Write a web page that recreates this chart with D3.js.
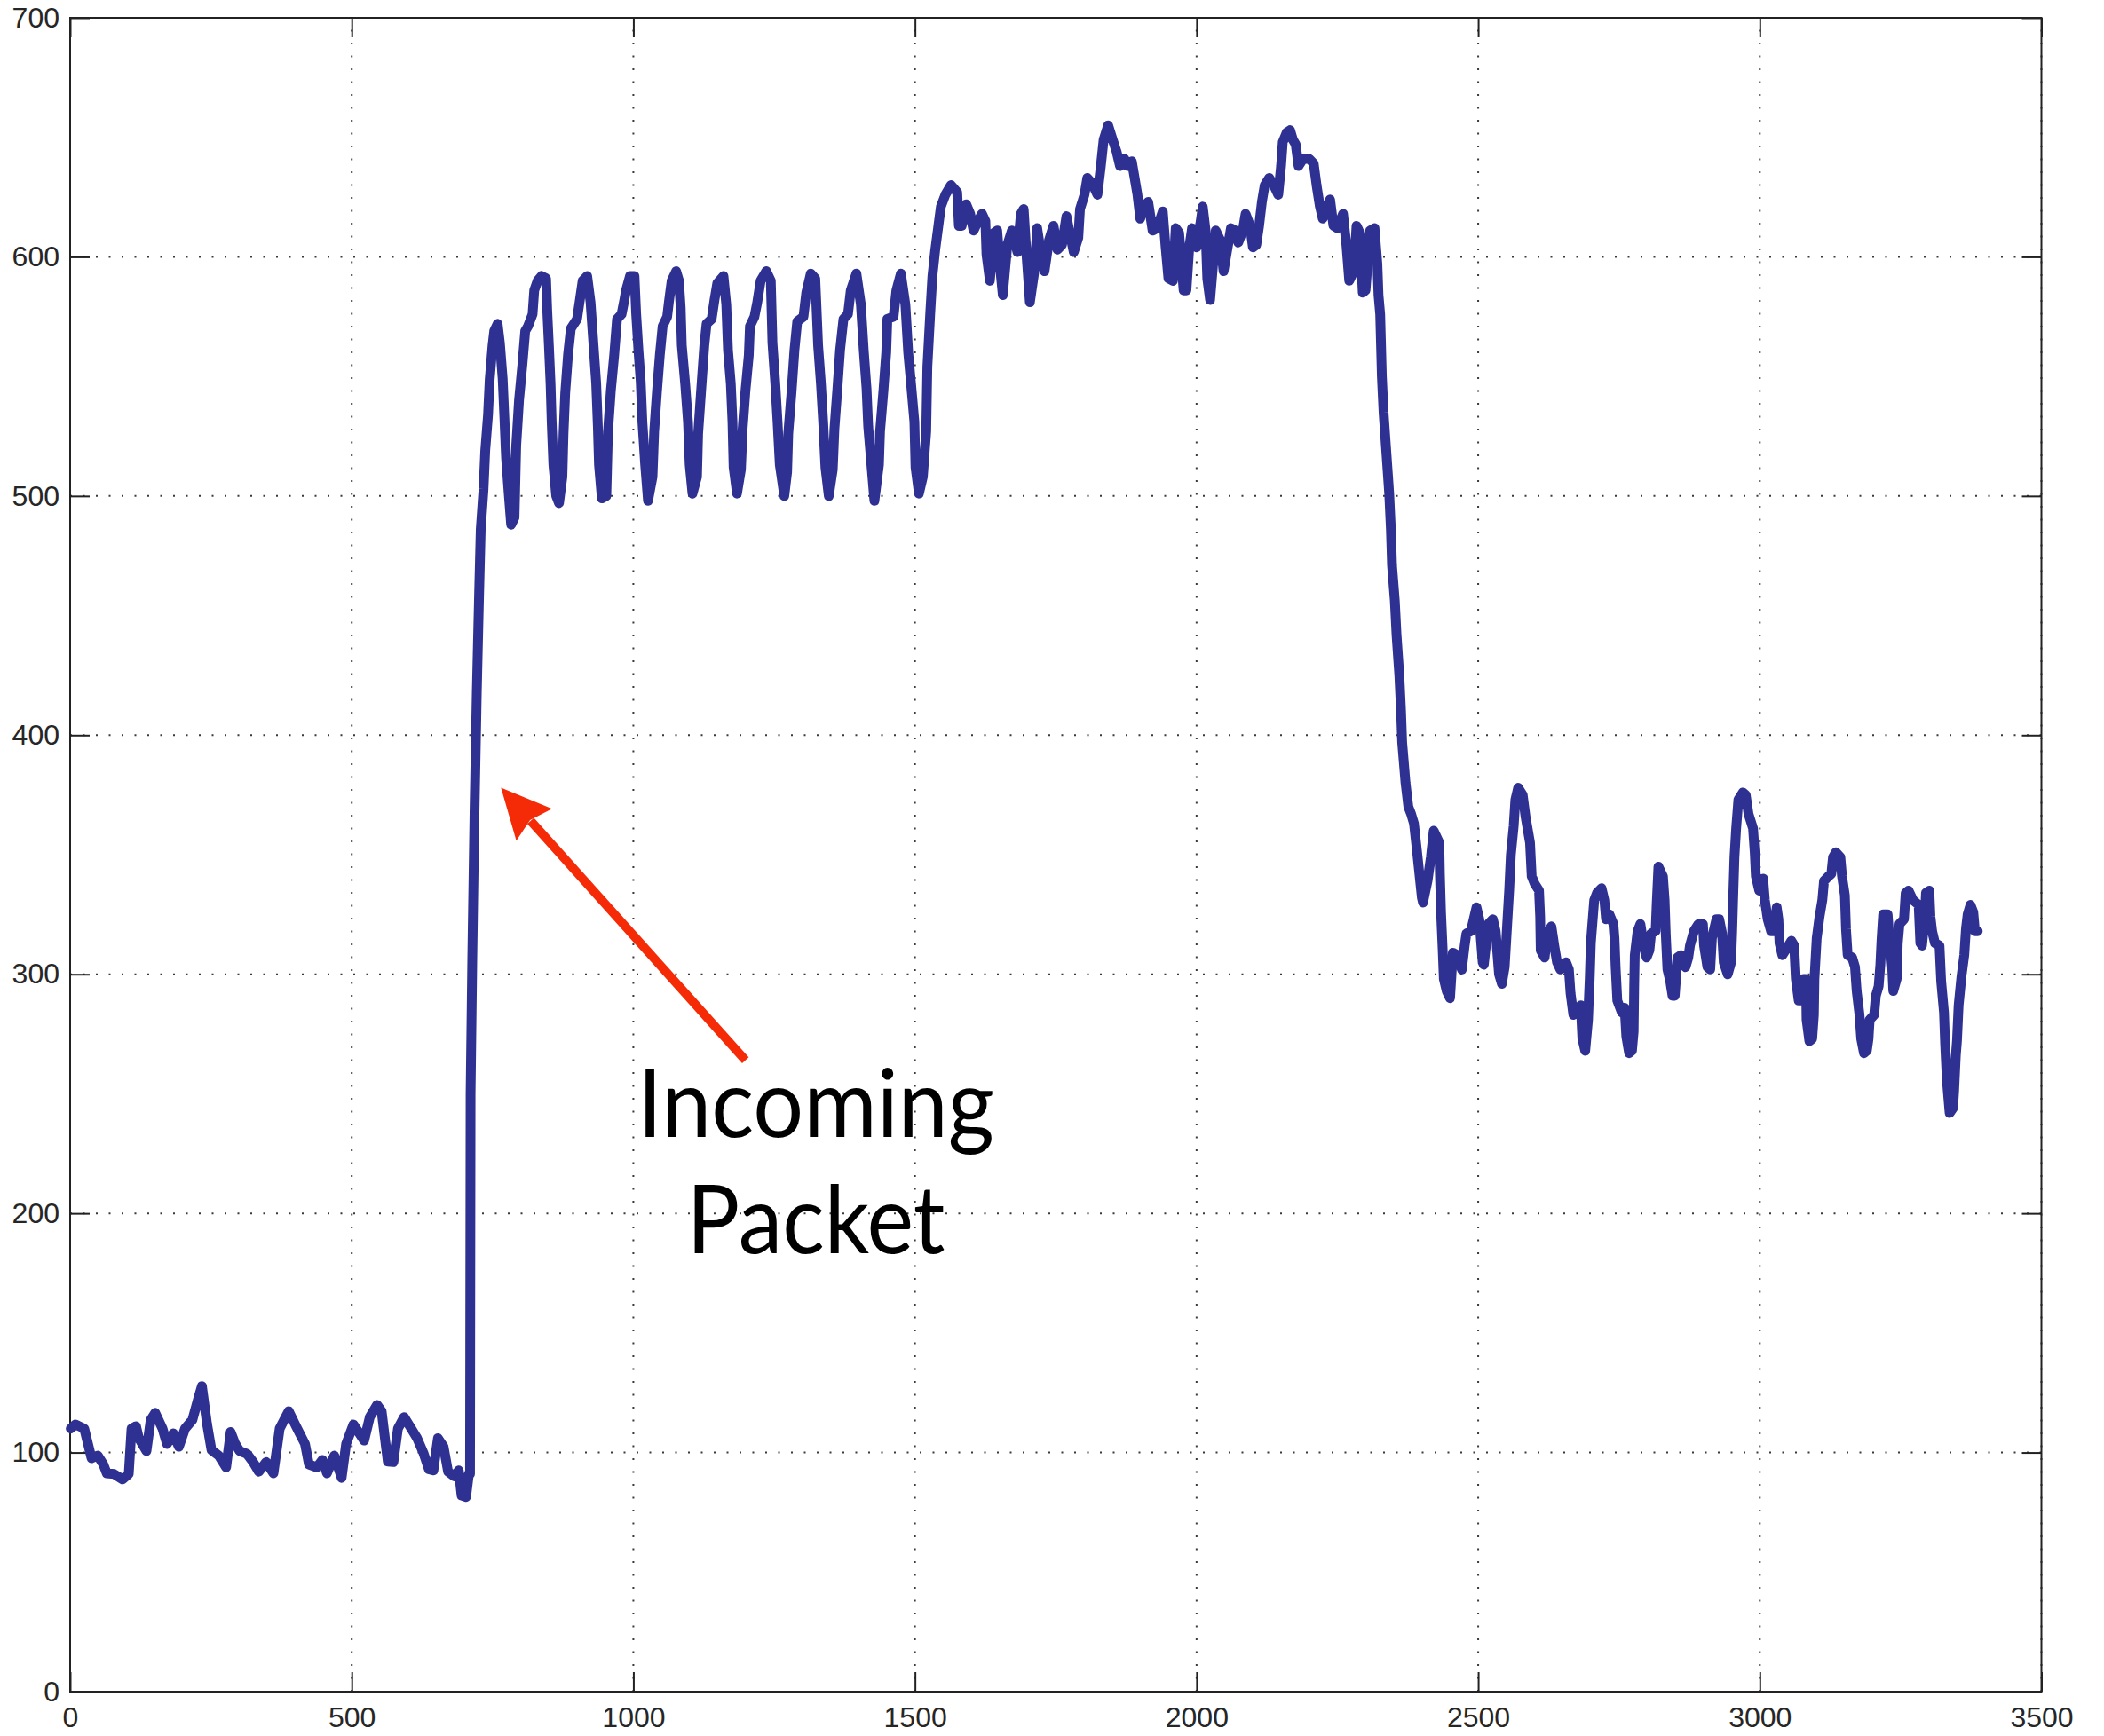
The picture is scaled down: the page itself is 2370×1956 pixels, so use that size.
<!DOCTYPE html>
<html>
<head>
<meta charset="utf-8">
<script src="https://cdn.jsdelivr.net/npm/d3@7"></script>
<style>
	body { margin: 0; background: #fff; }
	#chart-area svg { display: block; }
</style>
</head>
<body>
<div id="chart-area"></div>
<script>
// samples, [time, value]
var quietSegment = [
	[1,110],[9.5,111.7],[25,110],[38,97.6],[49,98.7],[59,95],[65,91.3],[78,91],[93,88.8],[104,91],
	[109,110],[117,111],[122,106],[135.5,100.6],[143,113.6],[151,116.6],[164,110],[172,103.6],[183,108],
	[193,102.4],[204,110],[217,113.6],[227,122.2],[234,127.8],[243,112],[251,101],[264,98.7],[277,93.8],
	[285,108.6],[293,103.7],[301,100.6],[314,99.4],[325,96],[335,92],[348,96],[361,91.3],[372,110],
	[388,117.3],[401,111],[417,103.6],[424,95],[438,93.8],[448,96.9],[456,91.3],[469,98.7],[482,89.4],
	[490,103.6],[503,111.7],[522,105],[532,114.8],[545,119.9],[553,117.3],[564,96.2],[574,96],[582,110],
	[593,114.8],[603,111],[616,106],[627,100],[637,93],[645,92.5],[653,106],[663,102.4],[671,92],[682,90],
	[690,92.5],[695,82],[703,81.4],[708,91]
];

var burstSegment = [
	[710,91],[711,250],[714,306],[718,368],[722,418],[726,458],[729,486],[734,503],[737,519],[742,534],
	[745,549],[750,563],[753,569],[759,572],[763,564],[768,549],[771,533],[774,516],[779,500],[783,488],
	[789,491],[792,521],[797,540],[803,555],[808,569],[813,571],[821,576],[824,586],[830,590],[837,592],
	[845,591],[847,578],[850,563],[853,547],[855,531],[858,513],[863,500],[868,497],[874,508],[876,526],
	[879,543],[884,559],[889,570],[900,574],[905,582],[910,590],[918,592],[924,581],[929,564],[934,547],
	[937,529],[939,513],[944,499],[952,500],[955,527],[960,544],[966,559],[971,574],[979,576],[984,582],
	[987,586],[994,592],[1002,592],[1005,576],[1009,561],[1013,548],[1016,531],[1021,513],[1026,498],
	[1034,508],[1037,527],[1042,544],[1047,559],[1052,571],[1060,575],[1063,581],[1068,590],[1076,594],
	[1081,590],[1084,579],[1086,563],[1092,547],[1097,531],[1100,513],[1105,501],[1113,508],[1115,526],
	[1120,543],[1126,563],[1130,572],[1139,574],[1144,582],[1149,589],[1160,592],[1165,580],[1168,561],
	[1173,547],[1176,531],[1178,512],[1184,501],[1191,511],[1194,528],[1199,544],[1205,559],[1207,571],
	[1215,575],[1220,581],[1226,590],[1236,594],[1244,590],[1247,564],[1252,547],[1256,531],[1260,513],
	[1268,500],[1273,510],[1275,526],[1281,544],[1286,561],[1291,573],[1302,575],[1307,585],[1315,593],
	[1323,591],[1328,563],[1333,547],[1337,531],[1341,512],[1347,500],[1354,511],[1357,528],[1362,544],
	[1367,561],[1373,574],[1381,576],[1386,586],[1396,593],[1404,580],[1409,561],[1414,545],[1417,529],
	[1423,512],[1428,498],[1436,513],[1438,527],[1444,544],[1449,560],[1451,574],[1462,575],[1467,586],
	[1475,593],[1483,580],[1488,560],[1493,547],[1499,531],[1501,512],[1507,501],[1514,508],[1520,527]
];

var plateauSegment = [
	[1522,554],[1527,576],[1531,592],[1536,603],[1541,612],[1546,621],[1554,626],[1564,630],[1575,627],
	[1578,613],[1583,613],[1591,622],[1598,618],[1604,611],[1612,615],[1619,618],[1625,615],[1627,601],
	[1633,590],[1640,610],[1646,611],[1651,596],[1656,584],[1664,605],[1672,611],[1682,602],[1688,618],
	[1693,620],[1698,601],[1704,581],[1712,594],[1717,612],[1724,601],[1730,594],[1738,607],[1746,613],
	[1753,603],[1761,605],[1769,617],[1774,611],[1782,602],[1790,608],[1793,620],[1801,626],[1806,633],
	[1814,631],[1824,626],[1830,638],[1835,649],[1843,655],[1851,649],[1858,644],[1864,638],[1872,641],
	[1877,638],[1885,640],[1890,633],[1895,626],[1900,616],[1906,621],[1914,623],[1922,611],[1930,612],
	[1940,619],[1945,604],[1950,591],[1958,590],[1963,612],[1969,610],[1977,586],[1982,586],[1987,604],
	[1992,612],[2000,604],[2005,611],[2011,621],[2016,611],[2019,591],[2024,582],[2029,596],[2034,611],
	[2042,607],[2048,594],[2053,601],[2061,612],[2069,611],[2074,606],[2082,611],[2087,618],[2095,613],
	[2100,604],[2106,605],[2111,613],[2116,623],[2121,630],[2129,633],[2137,630],[2145,626],[2150,638],
	[2153,648],[2160,652],[2166,653],[2171,649],[2176,647],[2181,638],[2189,641],[2200,641],[2208,639],
	[2213,630],[2219,621],[2224,616],[2232,621],[2237,624],[2243,613],[2250,612],[2260,618],[2266,605],
	[2271,590],[2279,594],[2284,613],[2290,610],[2295,585],[2300,586],[2308,611],[2316,612],[2321,597],
	[2323,584],[2326,576]
];

var tailSegment = [
	[2329,550],[2332,535],[2337,518],[2342,501],[2345,486],[2347,471],[2352,456],[2355,442],[2360,425],
	[2363,410],[2365,397],[2371,380],[2376,370],[2381,367],[2386,363],[2392,350],[2400,332],[2402,330],
	[2410,339],[2416,349],[2421,360],[2431,355],[2432,342],[2434,326],[2437,310],[2439,298],[2444,293],
	[2450,290],[2455,309],[2463,308],[2471,302],[2476,312],[2479,317],[2487,318],[2492,323],[2497,328],
	[2502,323],[2508,305],[2510,304],[2518,321],[2526,323],[2531,318],[2537,300],[2542,296],[2547,303],
	[2550,315],[2555,335],[2558,350],[2563,362],[2566,373],[2571,378],[2579,375],[2584,366],[2592,355],
	[2595,341],[2600,338],[2608,335],[2610,324],[2611,310],[2618,307],[2623,317],[2630,320],[2635,312],
	[2640,305],[2646,302],[2656,305],[2661,302],[2664,292],[2669,283],[2677,284],[2682,287],[2685,273],
	[2690,268],[2695,281],[2698,298],[2700,313],[2706,331],[2711,334],[2719,336],[2724,331],[2727,323],
	[2733,325],[2740,321],[2742,315],[2744,303],[2747,289],[2755,284],[2760,286],[2763,274],[2768,267],
	[2773,268],[2776,276],[2777,295],[2778,308],[2783,318],[2788,321],[2793,313],[2799,307],[2804,310],
	[2807,317],[2815,318],[2817,330],[2820,345],[2828,341],[2831,331],[2833,317],[2836,302],[2841,297],
	[2845,291],[2849,291],[2854,307],[2860,308],[2868,303],[2873,307],[2876,312],[2883,318],[2891,321],
	[2899,321],[2901,312],[2907,303],[2912,302],[2915,315],[2923,323],[2928,323],[2933,317],[2936,305],
	[2943,300],[2949,305],[2951,318],[2953,334],[2955,349],[2958,361],[2962,373],[2970,376],[2975,375],
	[2980,367],[2988,361],[2991,351],[2993,341],[2999,335],[3006,340],[3009,331],[3014,323],[3020,318],
	[3025,318],[3030,328],[3033,323],[3035,313],[3040,308],[3051,312],[3056,314],[3061,312],[3064,298],
	[3069,289],[3075,289],[3077,298],[3082,298],[3083,281],[3088,272],[3093,273],[3096,283],[3097,298],
	[3101,315],[3106,324],[3111,331],[3114,339],[3122,341],[3127,342],[3130,349],[3135,351],[3143,349],
	[3146,341],[3151,333],[3153,319],[3156,308],[3164,307],[3169,303],[3172,293],[3177,283],[3180,273],
	[3185,267],[3190,268],[3193,273],[3195,281],[3203,283],[3206,291],[3211,295],[3214,304],[3216,314],
	[3219,325],[3227,325],[3230,315],[3235,303],[3237,293],[3243,298],[3245,313],[3248,321],[3256,323],
	[3259,334],[3264,335],[3272,331],[3277,330],[3282,329],[3285,313],[3288,312],[3293,324],[3295,334],
	[3301,335],[3303,324],[3306,318],[3311,313],[3319,312],[3322,297],[3327,284],[3329,271],[3332,256],
	[3337,242],[3343,244],[3345,251],[3348,266],[3350,272],[3353,287],[3358,299],[3363,308],[3366,319],
	[3369,325],[3374,329],[3379,326],[3382,318],[3387,318]
];

var xTicks = [0, 500, 1000, 1500, 2000, 2500, 3000, 3500];
var yTicks = [0, 100, 200, 300, 400, 500, 600, 700];

var noteLines = ["Incoming", "Packet"];
var noteArrow = {tip: [765, 378], tail: [1199, 264]};
var noteAnchor = [1324, 232];

const svgWidth = 2370;
const svgHeight = 1956;
const margin = {top: 20, right: 70, bottom: 50, left: 79};
const tickLen = 22;

var series = quietSegment.concat(burstSegment, plateauSegment, tailSegment);

var canvas = d3.select("#chart-area").append("svg")
	.attr("width", svgWidth)
	.attr("height", svgHeight)
	.style("background", "#fff");

var xScale = d3.scaleLinear()
	.domain([0, 3500])
	.range([margin.left, svgWidth - margin.right - 0.5]);

var yScale = d3.scaleLinear()
	.domain([0, 700])
	.range([svgHeight - margin.bottom, margin.top]);

var x0 = xScale(0), x1 = xScale(3500), y0 = yScale(0), y1 = yScale(700);

var grid = canvas.append("g")
	.attr("stroke", "#3a3a3a")
	.attr("stroke-width", 2)
	.attr("stroke-dasharray", "2,12.5");

grid.selectAll("line.vgrid")
	.data(xTicks)
	.enter().append("line")
	.attr("class", "vgrid")
	.attr("x1", d => xScale(d))
	.attr("x2", d => xScale(d))
	.attr("y1", y0)
	.attr("y2", y1);

grid.selectAll("line.hgrid")
	.data(yTicks)
	.enter().append("line")
	.attr("class", "hgrid")
	.attr("x1", x0)
	.attr("x2", x1)
	.attr("y1", d => yScale(d))
	.attr("y2", d => yScale(d));

var plain = d3.format("d");

var xAxisBottom = d3.axisBottom(xScale).tickValues(xTicks).tickFormat(plain).tickSizeInner(-tickLen).tickSizeOuter(0).tickPadding(17);
var xAxisTop = d3.axisTop(xScale).tickValues(xTicks).tickSizeInner(-tickLen).tickSizeOuter(0).tickFormat("");
var yAxisLeft = d3.axisLeft(yScale).tickValues(yTicks).tickFormat(plain).tickSizeInner(-tickLen).tickSizeOuter(0).tickPadding(12);
var yAxisRight = d3.axisRight(yScale).tickValues(yTicks).tickSizeInner(-tickLen).tickSizeOuter(0).tickFormat("");

var axes = [
	canvas.append("g").attr("transform", "translate(0," + y0 + ")").call(xAxisBottom),
	canvas.append("g").attr("transform", "translate(0," + y1 + ")").call(xAxisTop),
	canvas.append("g").attr("transform", "translate(" + x0 + ",0)").call(yAxisLeft),
	canvas.append("g").attr("transform", "translate(" + x1 + ",0)").call(yAxisRight)
];

axes.forEach(g => {
	g.select(".domain").remove();
	g.selectAll(".tick line").attr("stroke", "#222").attr("stroke-width", 2);
	g.selectAll(".tick text")
		.attr("fill", "#262626")
		.style("font-family", "'Liberation Sans', Arial, Helvetica, sans-serif")
		.style("font-size", "32px");
});

canvas.append("rect")
	.attr("x", x0)
	.attr("y", y1)
	.attr("width", x1 - x0)
	.attr("height", y0 - y1)
	.attr("fill", "none")
	.attr("stroke", "#222")
	.attr("stroke-width", 2);

var line = d3.line()
	.x(d => xScale(d[0]))
	.y(d => yScale(d[1]));

canvas.append("path")
	.datum(series)
	.attr("d", line)
	.attr("fill", "none")
	.attr("stroke", "#2e3192")
	.attr("stroke-width", 11)
	.attr("stroke-linejoin", "round")
	.attr("stroke-linecap", "round");

// red arrow pointing at the jump
var tip = [xScale(noteArrow.tip[0]), yScale(noteArrow.tip[1])];
var tail = [xScale(noteArrow.tail[0]), yScale(noteArrow.tail[1])];
var dx = tip[0] - tail[0], dy = tip[1] - tail[1];
var len = Math.sqrt(dx * dx + dy * dy);
var ux = dx / len, uy = dy / len;
var headLen = 56, headHalf = 27;
var base = [tip[0] - ux * headLen, tip[1] - uy * headLen];

canvas.append("line")
	.attr("x1", tail[0])
	.attr("y1", tail[1])
	.attr("x2", base[0] + ux * 6)
	.attr("y2", base[1] + uy * 6)
	.attr("stroke", "#f52a06")
	.attr("stroke-width", 10);

canvas.append("polygon")
	.attr("points", [
		tip,
		[base[0] - uy * headHalf, base[1] + ux * headHalf],
		[base[0] + ux * 7, base[1] + uy * 7],
		[base[0] + uy * headHalf, base[1] - ux * headHalf]
	].map(p => p.join(",")).join(" "))
	.attr("fill", "#f52a06");

canvas.selectAll("text.note")
	.data(noteLines)
	.enter().append("text")
	.attr("class", "note")
	.attr("x", xScale(noteAnchor[0]))
	.attr("y", (d, i) => yScale(noteAnchor[1]) + i * 131)
	.attr("text-anchor", "middle")
	.attr("textLength", (d, i) => i == 0 ? 402 : 291)
	.attr("lengthAdjust", "spacingAndGlyphs")
	.style("font-family", "Lato, 'Gill Sans', 'Noto Sans', sans-serif")
	.style("font-size", "106px")
	.attr("fill", "#000")
	.text(d => d);
</script>
</body>
</html>
